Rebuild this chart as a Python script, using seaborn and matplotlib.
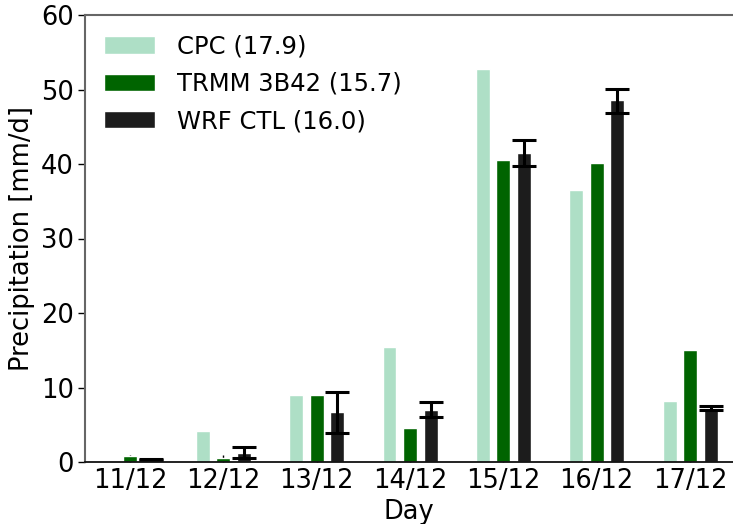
import matplotlib
matplotlib.use("Agg")
import matplotlib.pyplot as plt
import seaborn as sns
import pandas as pd
import numpy as np

days = ["11/12", "12/12", "13/12", "14/12", "15/12", "16/12", "17/12"]
series = ["CPC (17.9)", "TRMM 3B42 (15.7)", "WRF CTL (16.0)"]
cpc = [0.0, 4.15, 8.95, 15.4, 52.7, 36.5, 8.2]
trmm = [0.75, 0.6, 9.05, 4.5, 40.5, 40.1, 15.1]
wrf = [0.35, 1.15, 6.7, 7.0, 41.5, 48.6, 7.2]
wrf_low = [0.3, 0.6, 3.85, 6.1, 39.7, 46.9, 6.95]
wrf_high = [0.4, 1.95, 9.45, 8.05, 43.25, 50.1, 7.5]
colors = ["#aedfc6", "#006400", "#1c1c1c"]

df = pd.DataFrame({
    "Day": days * 3,
    "Series": [series[0]] * 7 + [series[1]] * 7 + [series[2]] * 7,
    "Value": cpc + trmm + wrf,
})

sns.set_style("white")
plt.rcParams["font.family"] = ["DejaVu Sans"]
plt.rcParams["text.color"] = "black"
plt.rcParams["axes.labelcolor"] = "black"
plt.rcParams["xtick.color"] = "black"
plt.rcParams["ytick.color"] = "black"

FS_TICK = 18.5
FS_LABEL = 18.5
FS_LEG = 17.5
fig = plt.figure(figsize=(7.33, 5.24), dpi=100)
ax = fig.add_axes([85 / 733, 62 / 524, 648 / 733, 447 / 524])

width = 0.66
sns.barplot(data=df, x="Day", y="Value", hue="Series", order=days,
            hue_order=series, palette=colors, width=width, gap=0.32,
            saturation=1, errorbar=None, ax=ax)

# error bars on WRF bars
xs = np.arange(len(days)) + width / 3
wrf_arr = np.array(wrf)
yerr = np.vstack([wrf_arr - np.array(wrf_low), np.array(wrf_high) - wrf_arr])
ax.errorbar(xs, wrf_arr, yerr=yerr, fmt="none", ecolor="black",
            elinewidth=2.2, capsize=8.5, capthick=2.2)

ax.set_xlim(-0.482, 6.46)
ax.set_ylim(0, 60)
ax.set_yticks([0, 10, 20, 30, 40, 50, 60])
ax.set_xlabel("Day", fontsize=FS_LABEL, labelpad=4, color="black")
ax.set_ylabel("Precipitation [mm/d]", fontsize=FS_LABEL, labelpad=4, color="black")
ax.tick_params(axis="y", direction="out", length=5, width=1, labelsize=FS_TICK,
               left=True, pad=3, colors="black")
ax.tick_params(axis="x", direction="in", length=5, width=1, labelsize=FS_TICK,
               bottom=True, pad=4, colors="black")

ax.spines["right"].set_visible(False)
for s in ["top", "left"]:
    ax.spines[s].set_color("#666666")
    ax.spines[s].set_linewidth(1.5)
ax.spines["bottom"].set_color("#111111")
ax.spines["bottom"].set_linewidth(1.3)

leg = ax.legend(loc="upper left", frameon=False, fontsize=FS_LEG,
                handlelength=2.1, handleheight=0.72, labelspacing=0.55,
                handletextpad=0.9, borderaxespad=0.4, bbox_to_anchor=(0.0, 1.0))
for t in leg.get_texts():
    t.set_color("black")

fig.savefig("out.png", dpi=100)
